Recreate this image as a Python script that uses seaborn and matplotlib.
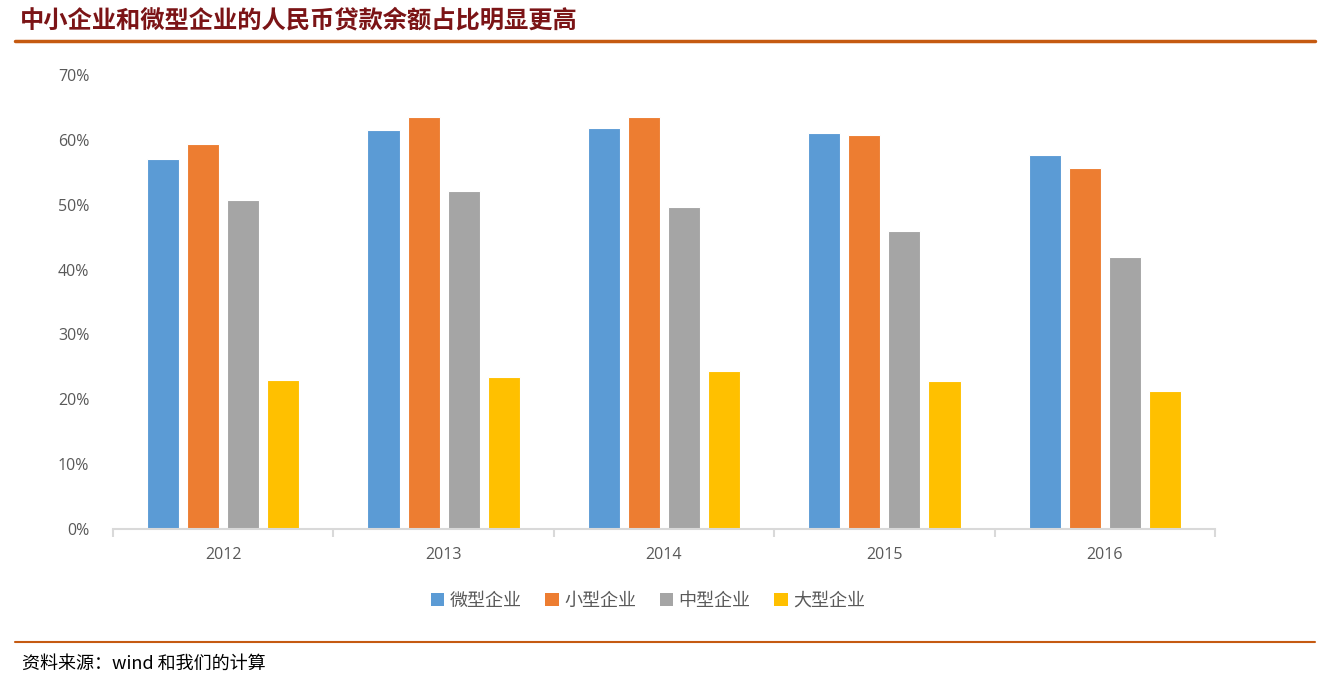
import matplotlib
matplotlib.use("Agg")
import matplotlib.pyplot as plt
import seaborn as sns
import pandas as pd
import numpy as np
from matplotlib.patches import Patch
from matplotlib.lines import Line2D

years = ["2012", "2013", "2014", "2015", "2016"]
series_names = ["微型企业", "小型企业", "中型企业", "大型企业"]
micro = [57.1, 61.5, 61.8, 61.0, 57.6]
small = [59.3, 63.6, 63.5, 60.7, 55.6]
medium = [50.7, 52.1, 49.7, 46.0, 41.9]
large = [22.9, 23.5, 24.4, 22.8, 21.3]
yticks = [0, 10, 20, 30, 40, 50, 60, 70]
title = "中小企业和微型企业的人民币贷款余额占比明显更高"
source = "资料来源：wind 和我们的计算"
colors = ["#5B9BD5", "#ED7D31", "#A5A5A5", "#FFC000"]

rows = []
for name, vals in zip(series_names, [micro, small, medium, large]):
    for y, v in zip(years, vals):
        rows.append({"year": y, "series": name, "value": v / 100})
df = pd.DataFrame(rows)

sns.set_theme(style="white")
plt.rcParams["font.family"] = ["Noto Sans CJK SC", "DejaVu Sans"]

fig = plt.figure(figsize=(13.27, 6.8), dpi=100)
ax = fig.add_axes([113/1327, 1-529/680, (1215-113)/1327, (529-75)/680])

sns.barplot(data=df, x="year", y="value", hue="series", order=years,
            hue_order=series_names, palette=colors, width=0.727, gap=0.2,
            saturation=1, ax=ax, legend=False, edgecolor="white", linewidth=0.8)

ax.set_xlim(-0.5, 4.5)
ax.set_ylim(0, 0.7)
ax.set_yticks([t/100 for t in yticks])
ax.set_yticklabels([f"{t}%" for t in yticks], family="Open Sans", fontsize=11.5, color="#595959")
ax.set_xticks(range(len(years)))
ax.set_xticklabels(years, family="Open Sans", fontsize=11.5, color="#595959")
ax.set_xticks(np.arange(-0.5, 5, 1), minor=True)
ax.tick_params(axis="x", which="major", bottom=True, length=0, pad=13)
ax.tick_params(axis="x", which="minor", bottom=True, length=6, color="#D9D9D9", width=1.5, direction="out")
ax.tick_params(axis="y", length=0, pad=17)
ax.set_xlabel("")
ax.set_ylabel("")
for s in ["top", "right", "left"]:
    ax.spines[s].set_visible(False)
ax.spines["bottom"].set_color("#D9D9D9")
ax.spines["bottom"].set_linewidth(1.5)
ax.grid(False)

handles = [Patch(facecolor=c, edgecolor="none") for c in colors]
fig.legend(handles, series_names, loc="center", bbox_to_anchor=(648/1327, 1-601/680),
           ncol=4, frameon=False, fontsize=13, handlelength=0.75, handleheight=0.75,
           handletextpad=0.3, columnspacing=1.3, labelcolor="#595959")

fig.text(20/1327, 1-20/680, title, fontsize=17.5, fontweight="semibold", color="#7B1416",
         ha="left", va="center")
fig.add_artist(Line2D([15/1327, 1315/1327], [1-41/680, 1-41/680], color="#C55A11", lw=2.5))
fig.add_artist(Line2D([15/1327, 1315/1327], [1-642/680, 1-642/680], color="#C55A11", lw=1.5))
fig.text(22/1327, 1-664/680, source, fontsize=13, style="italic", color="black",
         ha="left", va="center")

fig.savefig("out.png", dpi=100)
